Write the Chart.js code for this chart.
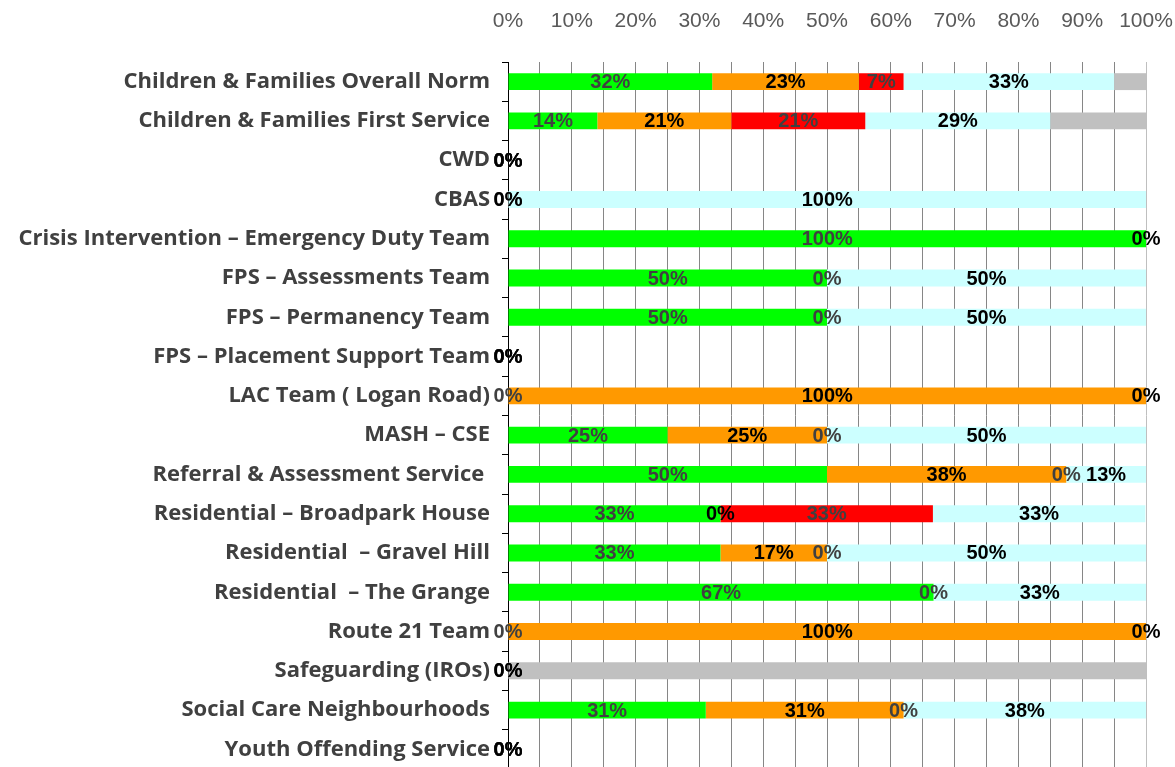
<!DOCTYPE html>
<html>
<head>
<meta charset="utf-8">
<script src="https://cdn.jsdelivr.net/npm/chart.js@4"></script>
<style>
  html, body { margin: 0; padding: 0; background: #fff; overflow: hidden; }
  #wrap { width: 1175px; height: 770px; }
</style>
</head>
<body>
<div id="wrap"><canvas id="chart" width="1175" height="770"></canvas></div>
<script>
// teams, top to bottom
const teams = [
  'Children & Families Overall Norm',
  'Children & Families First Service',
  'CWD',
  'CBAS',
  'Crisis Intervention \u2013 Emergency Duty Team',
  'FPS \u2013 Assessments Team',
  'FPS \u2013 Permanency Team',
  'FPS \u2013 Placement Support Team',
  'LAC Team ( Logan Road)',
  'MASH \u2013 CSE',
  'Referral & Assessment Service ',
  'Residential \u2013 Broadpark House',
  'Residential  \u2013 Gravel Hill',
  'Residential  \u2013 The Grange',
  'Route 21 Team',
  'Safeguarding (IROs)',
  'Social Care Neighbourhoods',
  'Youth Offending Service'
];

// share of each rating per team (%), null = blank cell
const green  = [32, 14, 0, 0, 100, 50, 50, 0, 0, 25, 50, 33.3, 33.3, 66.7, 0, null, 31, 0];
const orange = [23, 21, 0, 0, null, null, null, 0, 100, 25, 37.5, 0, 16.7, null, 100, 0, 31, 0];
const red    = [7, 21, 0, null, null, 0, 0, 0, null, 0, 0, 33.3, 0, 0, null, null, 0, 0];
const cyan   = [33, 29, 0, 100, 0, 50, 50, 0, 0, 50, 12.5, 33.3, 50, 33.3, 0, 0, 38, 0];
const grey   = [5, 15, null, null, null, null, null, null, null, null, null, null, null, null, null, 100, null, null];

const xTicks = [0, 10, 20, 30, 40, 50, 60, 70, 80, 90, 100];

// percentage labels drawn in the middle of each segment
const segmentLabels = {
  id: 'segmentLabels',
  afterDatasetsDraw(chart) {
    const ctx = chart.ctx;
    ctx.save();
    ctx.font = 'bold 20px "Liberation Sans", sans-serif';
    ctx.textAlign = 'center';
    ctx.textBaseline = 'middle';
    chart.data.datasets.forEach((ds, di) => {
      if (!ds.labelColor) return;
      chart.getDatasetMeta(di).data.forEach((bar, i) => {
        const v = ds.data[i];
        if (v === null || v === undefined) return;
        const p = bar.getProps(['x', 'y', 'base'], true);
        ctx.fillStyle = ds.labelColor;
        ctx.fillText(Math.round(v) + '%', (p.x + p.base) / 2, p.y + 1);
      });
    });
    ctx.restore();
  }
};

function series(data, color, labelColor) {
  return {
    data: data,
    backgroundColor: color,
    borderWidth: 0,
    barPercentage: 0.43,
    categoryPercentage: 1,
    labelColor: labelColor
  };
}

new Chart(document.getElementById('chart'), {
  type: 'bar',
  data: {
    labels: teams,
    datasets: [
      series(green, '#00FF00', '#404040'),
      series(orange, '#FF9900', '#000000'),
      series(red, '#FF0000', '#404040'),
      series(cyan, '#CCFFFF', '#000000'),
      series(grey, '#C0C0C0', null)
    ]
  },
  options: {
    indexAxis: 'y',
    responsive: false,
    animation: false,
    layout: { padding: { top: 8, right: 29, bottom: 1, left: 0 } },
    plugins: {
      legend: { display: false },
      tooltip: { enabled: false }
    },
    scales: {
      x: {
        position: 'top',
        stacked: true,
        min: 0,
        max: 100,
        afterBuildTicks: (s) => {
          // gridline every 5%, label every 10%
          const t = [];
          for (let v = 0; v <= 100; v += 5) t.push({ value: v });
          s.ticks = t;
        },
        afterFit: (s) => {
          s.height = 54;
          s.paddingLeft = 0;
          s.paddingRight = 0;
        },
        ticks: {
          padding: 28,
          autoSkip: false,
          maxRotation: 0,
          minRotation: 0,
          color: '#595959',
          font: { family: '"Liberation Sans", sans-serif', size: 21 },
          callback: (v) => xTicks.includes(v) ? v + '%' : ''
        },
        grid: {
          drawTicks: false,
          color: (c) => c.tick && c.tick.value === 100 ? '#BFBFBF' : '#868686',
          lineWidth: 1
        },
        border: { display: false }
      },
      y: {
        stacked: true,
        afterFit: (s) => {
          s.width = 508;
          s.paddingTop = 0;
          s.paddingBottom = 0;
        },
        ticks: {
          padding: 12,
          color: '#404040',
          font: { family: '"Open Sans", Lato, sans-serif', size: 22, weight: 'bold' }
        },
        grid: {
          offset: true,
          drawOnChartArea: false,
          drawTicks: true,
          tickLength: 6,
          color: '#000000'
        },
        border: { display: true, color: '#000000', width: 1 }
      }
    }
  },
  plugins: [segmentLabels]
});
</script>
</body>
</html>
